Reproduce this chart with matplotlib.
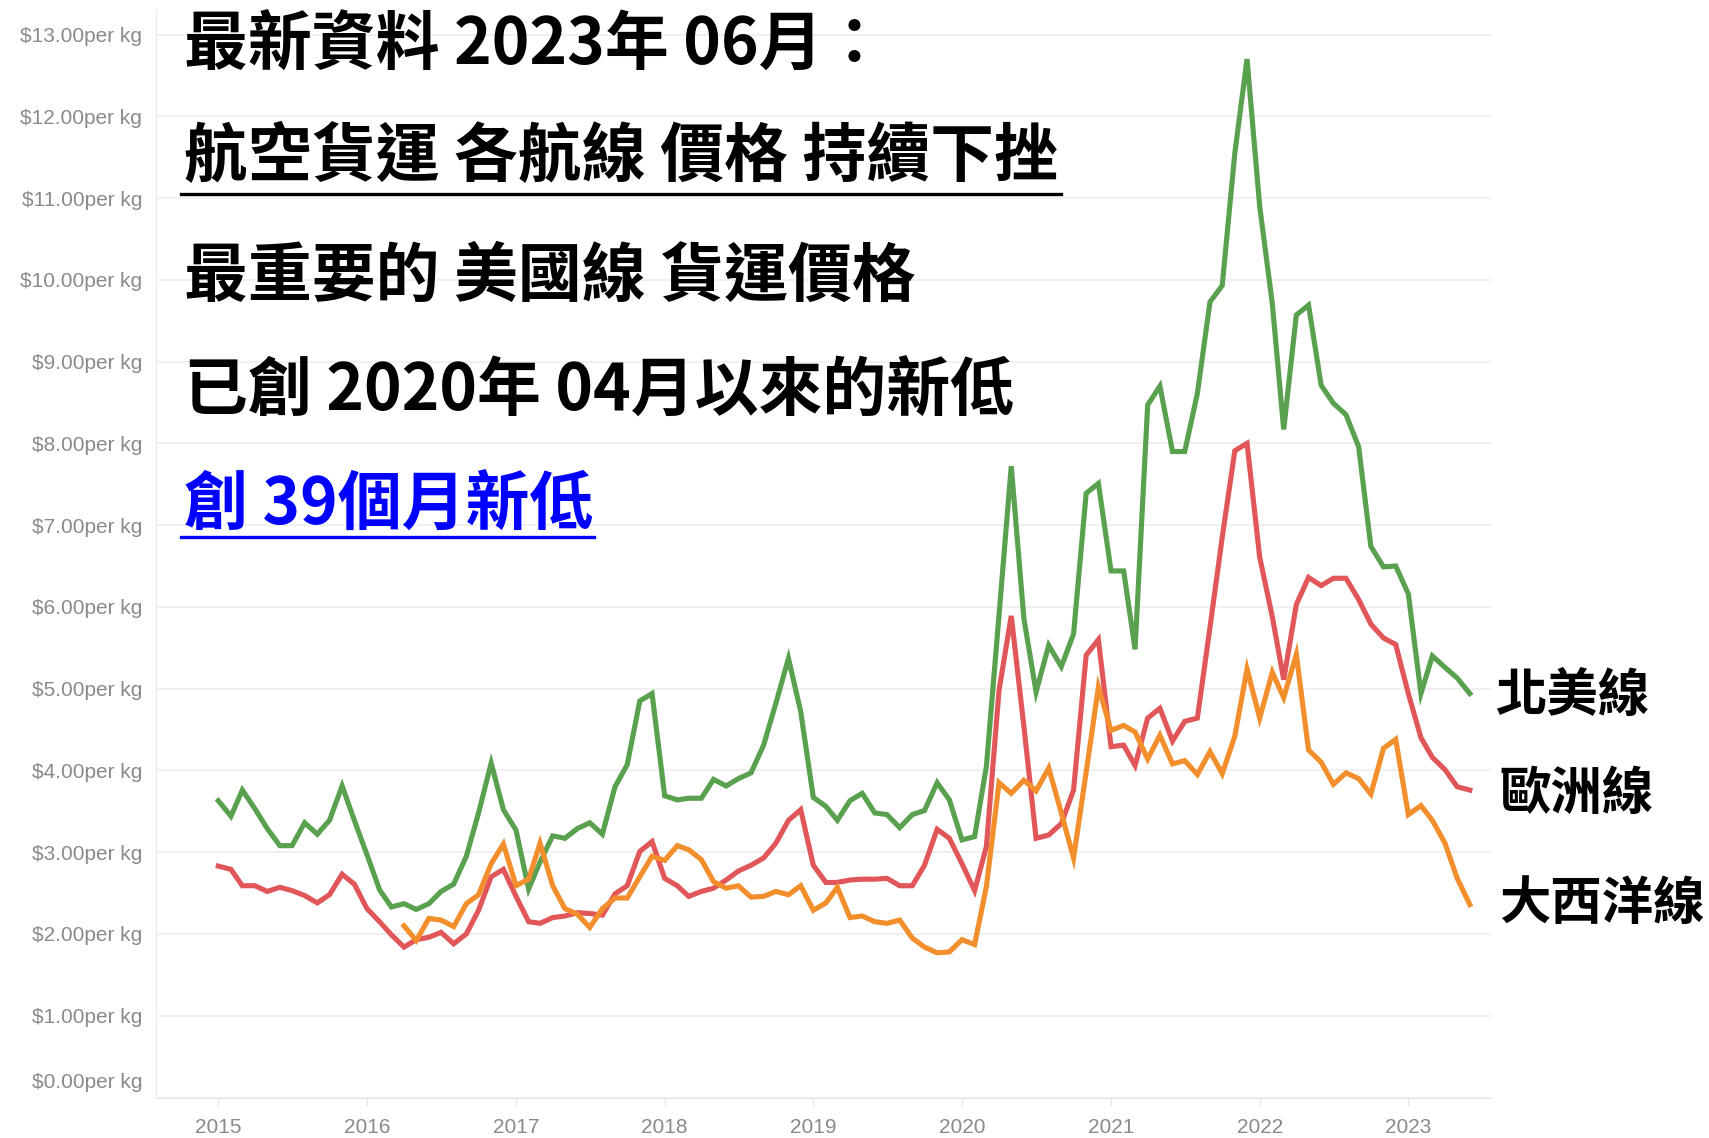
import matplotlib.pyplot as plt
import matplotlib.lines as mlines
import matplotlib.transforms as mtransforms
import pandas as pd

# monthly prices, USD per kg, 2015-01 .. 2023-06
months = pd.date_range("2015-01-01", periods=102, freq="MS")

north_america = [
    3.63, 3.44, 3.76, 3.53, 3.29, 3.08, 3.08, 3.36, 3.22, 3.39,
    3.81, 3.39, 2.97, 2.54, 2.33, 2.37, 2.30, 2.37, 2.52, 2.61,
    2.95, 3.48, 4.09, 3.52, 3.27, 2.55, 2.88, 3.20, 3.17, 3.29,
    3.36, 3.22, 3.80, 4.07, 4.85, 4.94, 3.69, 3.64, 3.66, 3.66,
    3.89, 3.81, 3.90, 3.97, 4.31, 4.82, 5.37, 4.72, 3.67, 3.56,
    3.39, 3.63, 3.72, 3.48, 3.46, 3.30, 3.46, 3.51, 3.85, 3.64,
    3.15, 3.19, 4.05, 5.90, 7.72, 5.86, 4.96, 5.53, 5.27, 5.67,
    7.39, 7.51, 6.44, 6.44, 5.48, 8.47, 8.70, 7.90, 7.90, 8.61,
    9.73, 9.93, 11.55, 12.70, 10.90, 9.71, 8.17, 9.57, 9.69, 8.71,
    8.49, 8.35, 7.96, 6.74, 6.49, 6.50, 6.16, 4.94, 5.40, 5.26,
    5.13, 4.94,
]

europe = [
    2.83, 2.79, 2.59, 2.59, 2.52, 2.57, 2.53, 2.47, 2.38, 2.48,
    2.73, 2.61, 2.31, 2.15, 1.99, 1.84, 1.93, 1.96, 2.02, 1.88,
    2.00, 2.29, 2.70, 2.79, 2.46, 2.15, 2.13, 2.20, 2.22, 2.26,
    2.25, 2.23, 2.49, 2.59, 3.01, 3.13, 2.68, 2.59, 2.46, 2.52,
    2.56, 2.66, 2.77, 2.84, 2.93, 3.11, 3.39, 3.52, 2.84, 2.63,
    2.63, 2.66, 2.67, 2.67, 2.68, 2.59, 2.59, 2.84, 3.28, 3.17,
    2.86, 2.53, 3.07, 4.98, 5.89, 4.54, 3.17, 3.21, 3.35, 3.76,
    5.41, 5.60, 4.29, 4.31, 4.06, 4.64, 4.76, 4.36, 4.60, 4.64,
    5.75, 6.85, 7.91, 8.00, 6.61, 5.88, 5.11, 6.03, 6.36, 6.26,
    6.35, 6.35, 6.09, 5.79, 5.62, 5.54, 4.94, 4.40, 4.16, 4.01,
    3.80, 3.76,
]

# atlantic series starts 2016-04
atlantic = [
    2.10, 1.92, 2.19, 2.17, 2.09,
    2.37, 2.48, 2.86, 3.10, 2.59, 2.67, 3.11, 2.59, 2.31, 2.24,
    2.08, 2.31, 2.44, 2.44, 2.70, 2.95, 2.90, 3.08, 3.03, 2.91,
    2.64, 2.56, 2.59, 2.45, 2.46, 2.52, 2.48, 2.59, 2.29, 2.38,
    2.57, 2.20, 2.22, 2.15, 2.13, 2.17, 1.95, 1.84, 1.77, 1.78,
    1.93, 1.87, 2.58, 3.85, 3.72, 3.88, 3.75, 4.03, 3.48, 2.93,
    3.98, 5.02, 4.49, 4.55, 4.47, 4.14, 4.43, 4.08, 4.12, 3.95,
    4.23, 3.96, 4.42, 5.24, 4.64, 5.20, 4.89, 5.42, 4.25, 4.10,
    3.83, 3.97, 3.90, 3.71, 4.27, 4.38, 3.46, 3.57, 3.39, 3.11,
    2.68, 2.36,
]
atlantic_months = months[len(months) - len(atlantic):]

years = list(range(2015, 2024))
price_ticks = list(range(0, 14))
price_labels = [f"${v}.00per kg" for v in price_ticks]

series_names = ["北美線", "歐洲線", "大西洋線"]
title_lines = [
    "最新資料 2023年 06月：",
    "航空貨運 各航線 價格 持續下挫",
    "最重要的 美國線 貨運價格",
    "已創 2020年 04月以來的新低",
    "創 39個月新低",
]

W, H = 1709, 1138
cjk = ["Noto Sans CJK TC", "DejaVu Sans"]
tick_font = ["Liberation Sans Narrow", "Liberation Sans", "DejaVu Sans"]
grey = "#8a8a8a"

fig = plt.figure(figsize=(W / 100, H / 100), dpi=100)
ax = fig.add_axes([156 / W, (H - 1097.5) / H, (1491 - 156) / W, 1087.5 / H])

ax.plot(months, north_america, color="#59a14f", lw=3.7, solid_joinstyle="miter")
ax.plot(months, europe, color="#e15759", lw=3.7, solid_joinstyle="miter")
ax.plot(atlantic_months, atlantic, color="#f28e2b", lw=3.7, solid_joinstyle="miter")

ax.set_ylim(0, 13.3)
ax.set_xlim(pd.Timestamp("2014-08-01"), pd.Timestamp("2023-07-23"))
ax.set_yticks(price_ticks)
# the $0 label sits a bit above the axis line, drawn separately below
ax.set_yticklabels([""] + price_labels[1:], family=tick_font, fontsize=15, color=grey)
ax.set_xticks([pd.Timestamp(f"{y}-01-01") for y in years])
ax.set_xticklabels([str(y) for y in years], family=tick_font, fontsize=15, color=grey)
ax.tick_params(axis="y", length=0, pad=10)
ax.tick_params(axis="x", length=6, color="#e4e4e4", pad=9)

zero_tf = mtransforms.blended_transform_factory(ax.transAxes, ax.transData) + \
    mtransforms.ScaledTranslation(-10 / 72, 11 / 72, fig.dpi_scale_trans)
ax.text(0, 0, price_labels[0], transform=zero_tf, ha="right", va="center",
        family=tick_font, fontsize=15, color=grey)

ax.grid(axis="y", color="#ededed", lw=1.2)
ax.set_axisbelow(True)
for side in ["top", "right"]:
    ax.spines[side].set_visible(False)
ax.spines["left"].set_color("#e8e8e8")
ax.spines["bottom"].set_color("#e8e8e8")

# headline text
title_y = [46, 157, 277, 392, 506]
for i, (line, y) in enumerate(zip(title_lines, title_y)):
    fig.text(184 / W, 1 - y / H, line, family=cjk, fontsize=46, fontweight="bold",
             color="#0000ff" if i == 4 else "black", va="center", ha="left")

fig.add_artist(mlines.Line2D([181 / W, 1061 / W], [1 - 194 / H, 1 - 194 / H], color="black", lw=2.4))
fig.add_artist(mlines.Line2D([181 / W, 594 / W], [1 - 537 / H, 1 - 537 / H], color="#0000ff", lw=2.4))

# series labels
label_pos = [(1496, 695), (1499, 793), (1499, 903)]
for name, (x, y) in zip(series_names, label_pos):
    fig.text(x / W, 1 - y / H, name, family=cjk, fontsize=37, fontweight="bold",
             va="center", ha="left")

fig.savefig("out.png", dpi=100)
